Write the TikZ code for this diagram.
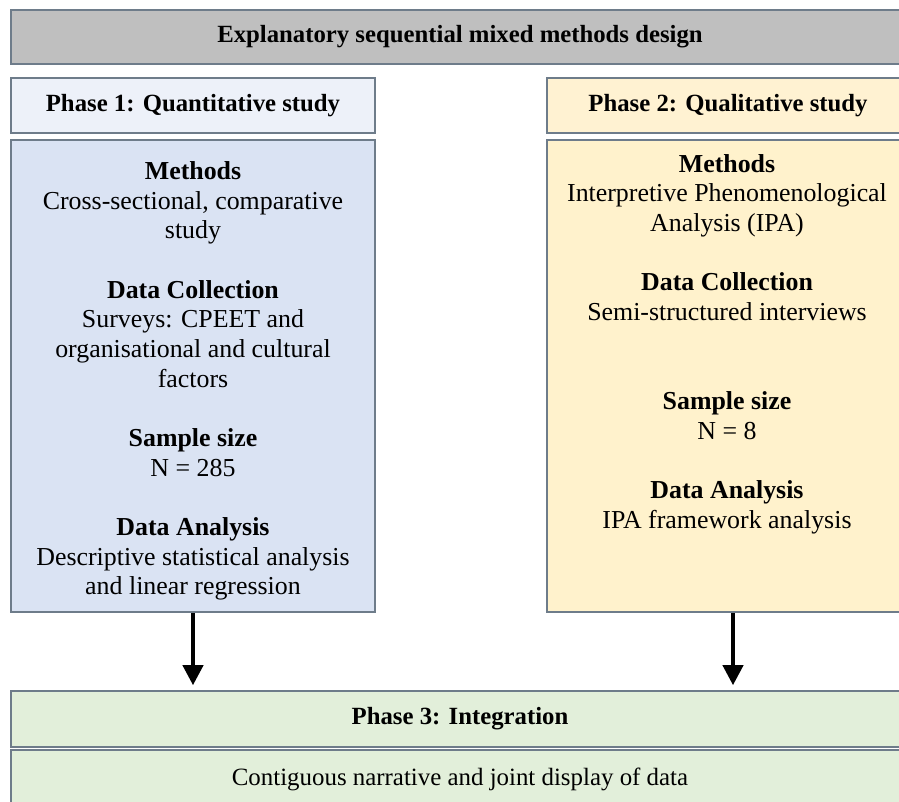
\documentclass[tikz,border=0pt]{standalone}
\usepackage{fontspec}
\setmainfont{Liberation Serif}
\usetikzlibrary{arrows.meta, positioning}

\definecolor{titlegray}{RGB}{191,191,191}
\definecolor{quanthead}{RGB}{237,241,249}
\definecolor{quantbody}{RGB}{218,227,243}
\definecolor{qualhead}{RGB}{255,242,210}
\definecolor{qualbody}{RGB}{255,242,204}
\definecolor{integfill}{RGB}{226,239,218}
\definecolor{boxline}{RGB}{110,124,138}

\begin{document}
\begin{tikzpicture}[
    x=0.025cm, y=-0.025cm,
    phase box/.style={rectangle, draw=boxline, line width=1.1pt, inner sep=0pt},
    body text/.style={align=center, inner sep=0pt, font=\fontsize{18.4pt}{21.1pt}\selectfont},
    head text/.style={body text, font=\fontsize{17.6pt}{21.1pt}\selectfont\bfseries},
    flow arrow/.style={-{Triangle[width=0.5cm, length=0.5cm]}, line width=0.1cm, black}
]
    \useasboundingbox (0,0) rectangle (899,801);

    % Title bar
    \node[phase box, fill=titlegray, minimum width=22.45cm, minimum height=1.35cm] (design) at (460, 37) {};
    \node[head text] (designtxt) at (design) {Explanatory sequential mixed methods design};

    % Phase 1: quantitative
    \node[phase box, fill=quanthead, minimum width=9.1cm, minimum height=1.375cm] (quanthd) at (193, 105.5) {};
    \node[head text] (quanthdtxt) at (quanthd) {Phase 1: Quantitative study};
    \node[phase box, fill=quantbody, minimum width=9.1cm, minimum height=11.8cm] (quantbd) at (193, 376) {};
    \node[body text] (quanttxt) at (193, 381) {\textbf{Methods}\\ Cross-sectional, comparative\\ study\\[21.1pt]
        \textbf{Data Collection}\\ Surveys: CPEET and\\ organisational and cultural\\ factors\\[21.1pt]
        \textbf{Sample size}\\ N = 285\\[21.1pt]
        \textbf{Data Analysis}\\ Descriptive statistical analysis\\ and linear regression};

    % Phase 2: qualitative
    \node[phase box, fill=qualhead, minimum width=9.05cm, minimum height=1.375cm] (qualhd) at (728, 105.5) {};
    \node[head text] (qualhdtxt) at (qualhd) {Phase 2: Qualitative study};
    \node[phase box, fill=qualbody, minimum width=9.05cm, minimum height=11.8cm] (qualbd) at (728, 376) {};
    \node[body text] (qualtxt) at (727, 344) {\textbf{Methods}\\ Interpretive Phenomenological\\ Analysis (IPA)\\[21.1pt]
        \textbf{Data Collection}\\ Semi-structured interviews\\[42.2pt]
        \textbf{Sample size}\\ N = 8\\[21.1pt]
        \textbf{Data Analysis}\\ IPA framework analysis};

    % Phase 3: integration
    \node[phase box, fill=integfill, minimum width=22.45cm, minimum height=1.4cm] (integhd) at (460, 719) {};
    \node[head text] (integhdtxt) at (integhd) {Phase 3: Integration};
    \node[phase box, fill=integfill, minimum width=22.45cm, minimum height=1.45cm] (integbd) at (460, 779) {};
    \node[body text, font=\fontsize{17.7pt}{21.1pt}\selectfont] (integtxt) at (integbd) {Contiguous narrative and joint display of data};

    % Arrows into integration
    \draw[flow arrow, shorten >=0.125cm] (quantbd.south) -- (quantbd.south |- integhd.north);
    \draw[flow arrow, shorten >=0.125cm] ([xshift=0.125cm]qualbd.south) -- ([xshift=0.125cm]qualbd.south |- integhd.north);

\end{tikzpicture}
\end{document}
